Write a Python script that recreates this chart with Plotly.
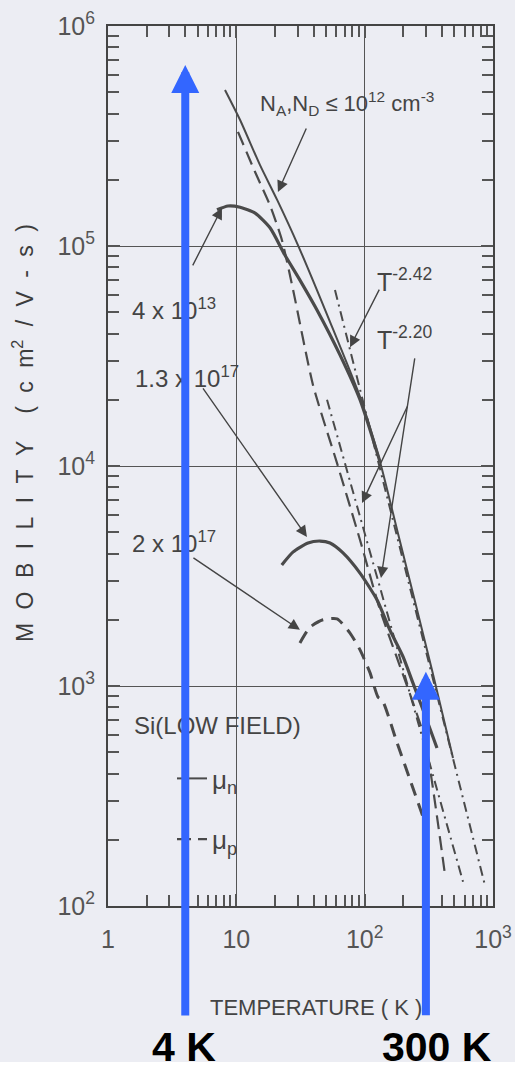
import math
import plotly.graph_objects as go

# ---------------- data ----------------
T_n_pure = [8.16, 10.7, 15.3, 20.8, 30.2, 53.7, 92, 132, 179, 335, 488]
mu_n_pure = [5.12e5, 3.74e5, 2.33e5, 1.62e5, 1.01e5, 4.52e4, 2.06e4, 1.04e4, 5.12e3, 1.18e3, 471]

T_p_pure = [10.3, 14.0, 18.3, 22.7, 27.7, 39.6, 60.9, 92, 132, 234, 295, 423]
mu_p_pure = [3.30e5, 2.17e5, 1.53e5, 1.06e5, 6.31e4, 2.33e4, 1.03e4, 4.61e3, 2.21e3, 864, 569, 138]

T_fit_n = [58.7, 866]          # T^-2.42 guide
mu_fit_n = [6.31e4, 124]
T_fit_p = [50.9, 584]          # T^-2.20 guide
mu_fit_p = [2.0e4, 129]

T_n_4e13 = [7.07, 8.61, 10.7, 14.0, 18.3, 23.9, 31.3, 42.5, 64.2, 92, 132]
mu_n_4e13 = [1.46e5, 1.52e5, 1.50e5, 1.41e5, 1.21e5, 9.1e4, 7.0e4, 5.12e4, 3.2e4, 2.0e4, 1.04e4]

T_n_13e17 = [22.6, 27.6, 36.2, 44.9, 53.7, 67.8, 92, 125, 157, 199, 238, 295, 366]
mu_n_13e17 = [3.55e3, 4.06e3, 4.47e3, 4.56e3, 4.47e3, 4.03e3, 3.26e3, 2.46e3, 1.80e3, 1.36e3, 1.03e3, 738, 523]

T_p_2e17 = [31.3, 37.5, 47.4, 60.9, 76.9, 92, 110, 127, 137, 179, 226, 285]
mu_p_2e17 = [1.57e3, 1.85e3, 2.0e3, 2.02e3, 1.74e3, 1.46e3, 1.15e3, 891, 864, 551, 374, 254]

x_tickvals = [1, 10, 100, 1000]
x_ticktext = ["1", "10", "10<sup>2</sup>", "10<sup>3</sup>"]
y_tickvals = [1e2, 1e3, 1e4, 1e5, 1e6]
y_ticktext = ["10<sup>2</sup>", "10<sup>3</sup>", "10<sup>4</sup>", "10<sup>5</sup>", "10<sup>6</sup>"]

marker_temps = [4, 300]
marker_tip_mu = [6.65e5, 1.16e3]
marker_labels = ["4 K", "300 K"]

# ---------------- styling ----------------
INK = "#4a4a4a"
BG = "#ECEDF3"
NARROW = "Liberation Sans Narrow, Arial Narrow, Liberation Sans, sans-serif"
BLUE = "#3366FF"

fig = go.Figure()

def add(x, y, name, dash, width, show=False, group=None):
    fig.add_trace(go.Scatter(x=x, y=y, mode="lines", name=name,
                             line=dict(color=INK, width=width, dash=dash, shape="spline", smoothing=0.6),
                             showlegend=show, legendgroup=group, hoverinfo="skip"))

add(T_n_pure, mu_n_pure, "μ<sub>n</sub>", "solid", 2, True, "n")
add(T_p_pure, mu_p_pure, "μ<sub>p</sub>", "14px,7px", 2.2, True, "p")
add(T_fit_n, mu_fit_n, "T^-2.42", "10px,5px,2px,5px", 2)
add(T_fit_p, mu_fit_p, "T^-2.20", "10px,5px,2px,5px", 2)
add(T_n_4e13, mu_n_4e13, "4e13", "solid", 3.2)
add(T_n_13e17, mu_n_13e17, "1.3e17", "solid", 3.2)
add(T_p_2e17, mu_p_2e17, "2e17", "13px,8px", 3)

minor_x = [m * 10 ** d for d in range(3) for m in range(2, 10)]
minor_y = [m * 10 ** d for d in range(2, 6) for m in range(2, 10)]

axis_common = dict(type="log", showgrid=True, gridcolor="#555555", gridwidth=1.3,
                   showline=True, linecolor="#444444", linewidth=2, mirror="ticks",
                   ticks="inside", ticklen=12, tickwidth=1.5, tickcolor="#555555",
                   zeroline=False, automargin=False,
                   tickfont=dict(family=NARROW, size=25, color="#555555"))

fig.update_xaxes(range=[0, 3], tickmode="array", tickvals=x_tickvals, ticktext=x_ticktext,
                 minor=dict(tickmode="array", tickvals=minor_x, ticks="inside", ticklen=11,
                            tickwidth=1.5, tickcolor="#555555", showgrid=False),
                 ticklabelstandoff=10, **axis_common)
fig.update_yaxes(range=[2, 6], tickmode="array", tickvals=y_tickvals, ticktext=y_ticktext,
                 minor=dict(tickmode="array", tickvals=minor_y, ticks="inside", ticklen=11,
                            tickwidth=1.5, tickcolor="#555555", showgrid=False),
                 ticklabelstandoff=6, **axis_common)

ann = []
def text(x, y, s, size=25, xanchor="left", **kw):
    ann.append(dict(xref="paper", yref="paper", x=x, y=y, text=s, showarrow=False,
                    xanchor=xanchor, yanchor="middle",
                    font=dict(family=NARROW, size=size, color="#444444"), **kw))

def px(xp):
    return (xp - 108) / 385.0

def py(yp):
    return (906 - yp) / 880.0

text(px(258), py(104), "N<sub>A</sub>,N<sub>D</sub> ≤ 10<sup>12</sup> cm<sup>-3</sup>", size=22)
text(px(375), py(280), "T<sup>-2.42</sup>")
text(px(375), py(338), "T<sup>-2.20</sup>")
text(px(130), py(309), "4 x 10<sup>13</sup>", size=24)
text(px(133), py(377), "1.3 x 10<sup>17</sup>", size=24)
text(px(130), py(542), "2 x 10<sup>17</sup>", size=24)
text(px(132), py(725), "Si(LOW FIELD)", size=24)
text(px(316), py(1007), "TEMPERATURE ( K )", size=22, xanchor="center")
sp = "\u2002\u200a"
ytitle = sp.join(list("MOBILITY")) + sp + sp + sp.join(["(", "c", "m<sup>2</sup>", "/", "V", "-", "s", ")"])
ann.append(dict(xref="paper", yref="paper", x=px(23), y=py(433), text=ytitle, textangle=-90,
                showarrow=False, xanchor="center", yanchor="middle",
                font=dict(family="Liberation Sans, Arial, sans-serif", size=23, color="#3c3c3c")))

# pointer arrows (tips in data space, tails as pixel offsets)
def pointer(T, mu, ax, ay):
    ann.append(dict(xref="x", yref="y", x=math.log10(T), y=math.log10(mu), ax=ax, ay=ay,
                    text="", showarrow=True, arrowhead=2, arrowsize=1.6, arrowwidth=1.4,
                    arrowcolor="#444444", standoff=0))

pointer(21.1, 1.76e5, 29, -65)     # N_A, N_D label
pointer(7.73, 1.49e5, -30, 59)     # 4e13
pointer(35.5, 4.76e3, -105, -150)  # 1.3e17
pointer(31.3, 1.80e3, -108, -73)   # 2e17
pointer(76.9, 3.47e4, 30, -59)     # T^-2.42
pointer(134, 3.10e3, 34, -221)     # T^-2.20 (lower)
pointer(95.4, 6.79e3, 46, -98)     # T^-2.20 (upper)

# blue markers
tails = [952, 345]
for T, mu, lab, tl in zip(marker_temps, marker_tip_mu, marker_labels, tails):
    ann.append(dict(xref="x", yref="y", x=math.log10(T), y=math.log10(mu), ax=0, ay=tl,
                    text="", showarrow=True, arrowhead=2, arrowsize=0.7, arrowwidth=8,
                    arrowcolor=BLUE, standoff=0))
for T, lab, cx in zip(marker_temps, marker_labels, [184, 437]):
    ann.append(dict(xref="paper", yref="paper", x=px(cx), y=py(1047), text="<b>%s</b>" % lab,
                    showarrow=False, xanchor="center", yanchor="middle",
                    font=dict(family="Liberation Sans, Arial, sans-serif", size=41, color="#000000")))

fig.update_layout(
    width=515, height=1075,
    margin=dict(l=108, r=22, t=26, b=169),
    paper_bgcolor=BG, plot_bgcolor=BG,
    annotations=ann,
    shapes=[dict(type="rect", xref="paper", yref="paper", x0=-0.4, x1=1.2,
                 y0=py(1080), y1=py(1062), fillcolor="#FFFFFF", line=dict(width=0), layer="below")],
    legend=dict(x=px(172), y=py(755), xanchor="left", yanchor="top",
                font=dict(family=NARROW, size=26, color="#444444"),
                bgcolor="rgba(0,0,0,0)", tracegroupgap=24,
                traceorder="grouped"),
)

fig.write_html("out.html", config={"displayModeBar": False},
               post_script="document.body.style.margin='0';document.body.style.padding='0';"
                           "document.body.style.overflow='hidden';")
